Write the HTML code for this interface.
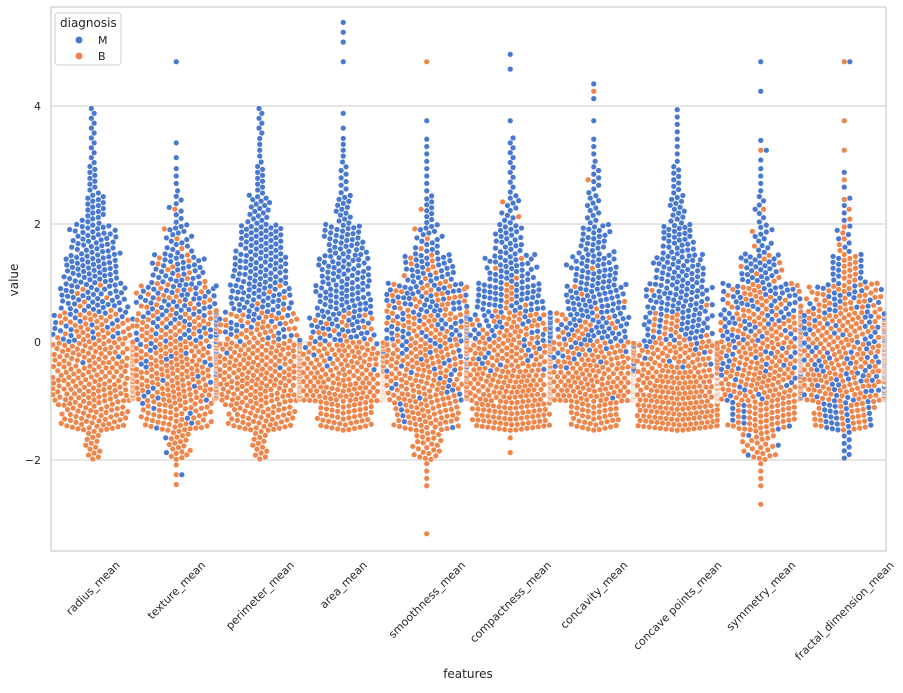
<!DOCTYPE html>
<html><head><meta charset="utf-8">
<style>
body{margin:0;background:#fff;font-family:"Liberation Sans","DejaVu Sans",sans-serif;}
svg text{font-family:"DejaVu Sans","Liberation Sans",sans-serif;fill:#262626;}
</style></head>
<body>
<svg id="chart" width="903" height="688">
</svg>
<script>
// bins of width 0.5 starting at -3.5 (18 bins); counts per bin
const features = ["radius_mean","texture_mean","perimeter_mean","area_mean","smoothness_mean","compactness_mean","concavity_mean","concave points_mean","symmetry_mean","fractal_dimension_mean"];
const binStart = -3.5;
const binWidth = 0.5;
//                 -3.5 -3 -2.5 -2 -1.5 -1 -.5  0  .5  1 1.5  2 2.5  3 3.5  4 4.5  5
const countsB = [
  [0,0,0,15,60,120,110,45,7,0,0,0,0,0,0,0,0,0],
  [0,0,3,20,55,90,90,60,25,10,3,1,0,0,0,0,0,0],
  [0,0,0,15,60,125,110,42,5,0,0,0,0,0,0,0,0,0],
  [0,0,0,0,50,200,90,17,0,0,0,0,0,0,0,0,0,0],
  [1,0,4,25,55,80,85,60,32,10,3,1,0,0,0,0,1,0],
  [0,0,0,2,75,125,95,45,10,3,0,2,0,0,0,0,0,0],
  [0,0,0,0,45,210,75,20,4,1,0,0,1,0,0,1,0,0],
  [0,0,0,0,90,170,75,20,2,0,0,0,0,0,0,0,0,0],
  [0,1,4,25,50,85,90,60,30,8,2,1,0,1,0,0,0,0],
  [0,0,0,0,30,85,95,80,40,15,5,3,1,1,1,0,1,0]
];
const countsM = [
  [0,0,0,0,0,0,5,25,50,50,40,20,10,6,6,0,0,0],
  [0,0,1,2,6,15,30,45,45,35,18,8,4,2,0,0,1,0],
  [0,0,0,0,0,0,4,25,50,50,42,20,10,5,6,0,0,0],
  [0,0,0,0,0,0,8,40,50,45,35,15,8,5,2,0,1,3],
  [0,0,0,0,5,15,30,45,45,35,18,10,4,4,1,0,0,0],
  [0,0,0,0,0,5,20,45,50,40,25,12,6,6,1,0,2,0],
  [0,0,0,0,0,5,20,45,50,40,25,12,8,4,1,2,0,0],
  [0,0,0,0,0,0,10,40,55,45,30,15,9,4,4,0,0,0],
  [0,0,0,3,10,20,35,45,40,30,13,7,4,3,0,1,1,0],
  [0,0,0,8,25,45,45,35,25,15,7,4,2,0,0,0,1,0]
];
const yTicks = [-2,0,2,4];

const NS="http://www.w3.org/2000/svg";
const svg=document.getElementById('chart');
const L=51,R=886,T=7,B=551;
const colM="#4878d0", colB="#ee854a";
function yScale(v){return 342-59*v;}
function xCenter(i){return L+(R-L)/features.length*(i+0.5);}
function mk(tag,attrs){const e=document.createElementNS(NS,tag);for(const k in attrs)e.setAttribute(k,attrs[k]);svg.appendChild(e);return e;}

// grid
yTicks.forEach(t=>{
  const g=mk('line',{x1:L,x2:R,y1:yScale(t),y2:yScale(t),stroke:'#cccccc','stroke-width':1});
  
  
  const tx=mk('text',{x:L-10,y:yScale(t)+4,'text-anchor':'end','font-size':11});
  tx.textContent=t<0?'\u2212'+(-t):String(t);
  
  
});

// points
const rad=2.8, d=5.6;
features.forEach((f,fi)=>{
  const pts=[];
  function add(counts,c){
    counts.forEach((n,b)=>{
      const lo=binStart+b*binWidth;
      for(let i=0;i<n;i++)pts.push({v:lo+binWidth*(i+0.5)/n,c:c});
    });
  }
  add(countsB[fi],'B');add(countsM[fi],'M');
  pts.sort((a,b)=>a.v-b.v);
  const placed=[];
  const cx=xCenter(fi);
  pts.forEach(p=>{
    const y=yScale(p.v);
    const near=placed.filter(q=>Math.abs(q.y-y)<d);
    let best=0;
    for(let k=0;k<200;k++){
      const off=(k%2?1:-1)*Math.ceil(k/2)*0.7;
      if(Math.abs(off)>40){best=(k%2?40:-40);break;}
      let ok=true;
      for(const q of near){const dx=q.x-off,dy=q.y-y;if(dx*dx+dy*dy<d*d){ok=false;break;}}
      if(ok){best=off;break;}
    }
    placed.push({x:best,y:y});
    const c=mk('circle',{cx:cx+best,cy:y,r:rad,fill:p.c==='M'?colM:colB,stroke:'#fff','stroke-width':0.4});
    
    
  });
  const x=xCenter(fi);
  const tx=mk('text',{x:x,y:0,'text-anchor':'middle','font-size':11});
  tx.textContent=f;
  
  
  const len=tx.getComputedTextLength();
  const cy=B+8+len*0.354+4;
  tx.setAttribute('y',cy+4);
  tx.setAttribute('transform',`rotate(-45 ${x} ${cy})`);
});

// frame
const fr=mk('rect',{x:L,y:T,width:R-L,height:B-T,fill:'none',stroke:'#cccccc','stroke-width':1.2});



const xt=mk('text',{x:468,y:678,'text-anchor':'middle','font-size':12});
xt.textContent='features';


const yt=mk('text',{x:18,y:280,'text-anchor':'middle','font-size':12,transform:'rotate(-90 18 280)'});
yt.textContent='value';



// legend
const lg=mk('rect',{x:55,y:13,width:66,height:52,rx:3,fill:'#fff',stroke:'#cccccc','fill-opacity':0.8});


const lt=mk('text',{x:60,y:27,'font-size':12});
lt.textContent='diagnosis';


[['M',colM,40],['B',colB,56]].forEach(([n,c,y])=>{
  const m=mk('circle',{cx:79,cy:y,r:3.5,fill:c});
  
  
  const t=mk('text',{x:98,y:y+4,'font-size':11});
  t.textContent=n;
  
  
});
</script>
</body></html>
